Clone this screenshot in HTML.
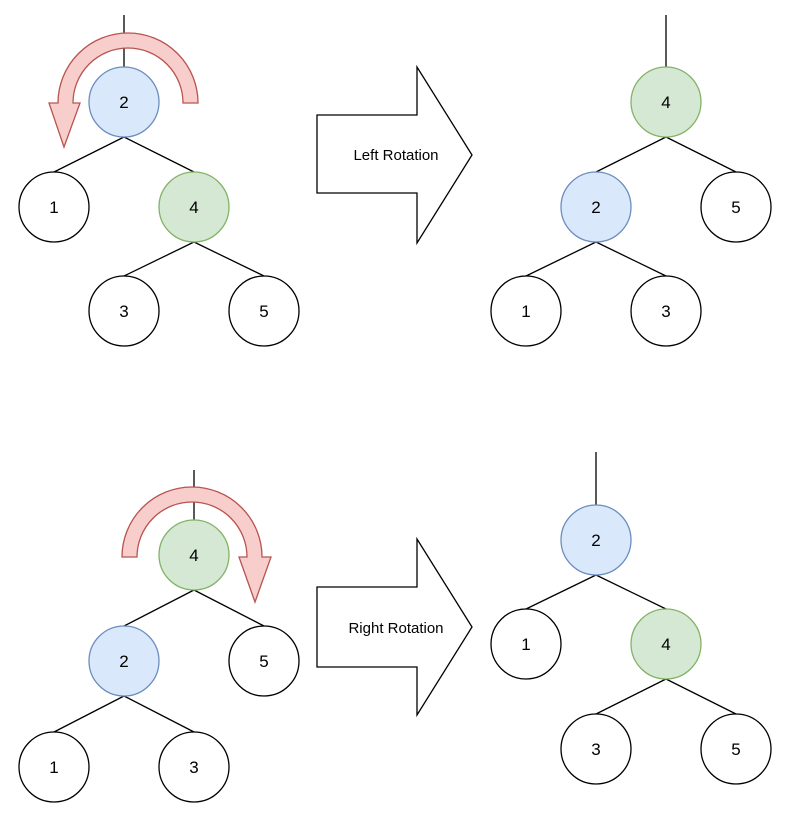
<!DOCTYPE html>
<html><head><style>body{margin:0;background:#fff}</style></head><body>
<svg width="791" height="819" xmlns="http://www.w3.org/2000/svg" font-family="Liberation Sans, Arial, sans-serif">
<g stroke="#000" stroke-width="1.3" fill="none">
<line x1="124" y1="15" x2="124" y2="67"/>
<line x1="124" y1="137" x2="54" y2="172"/><line x1="124" y1="137" x2="194" y2="172"/>
<line x1="194" y1="242" x2="124" y2="276"/><line x1="194" y1="242" x2="264" y2="276"/>
<line x1="666" y1="15" x2="666" y2="67"/>
<line x1="666" y1="137" x2="596" y2="172"/><line x1="666" y1="137" x2="736" y2="172"/>
<line x1="596" y1="242" x2="526" y2="276"/><line x1="596" y1="242" x2="666" y2="276"/>
<line x1="194" y1="470" x2="194" y2="520"/>
<line x1="194" y1="590" x2="124" y2="626"/><line x1="194" y1="590" x2="264" y2="626"/>
<line x1="124" y1="696" x2="54" y2="732"/><line x1="124" y1="696" x2="194" y2="732"/>
<line x1="596" y1="452" x2="596" y2="505"/>
<line x1="596" y1="575" x2="526" y2="609"/><line x1="596" y1="575" x2="666" y2="609"/>
<line x1="666" y1="679" x2="596" y2="714"/><line x1="666" y1="679" x2="736" y2="714"/>
</g>
<g stroke-width="1.3" font-size="17" text-anchor="middle">
<g fill="#dae8fc" stroke="#6c8ebf"><circle cx="124" cy="102" r="35"/><circle cx="596" cy="207" r="35"/><circle cx="124" cy="661" r="35"/><circle cx="596" cy="540" r="35"/></g>
<g fill="#d5e8d4" stroke="#82b366"><circle cx="194" cy="207" r="35"/><circle cx="666" cy="102" r="35"/><circle cx="194" cy="555" r="35"/><circle cx="666" cy="644" r="35"/></g>
<g fill="#fff" stroke="#000"><circle cx="54" cy="207" r="35"/><circle cx="124" cy="311" r="35"/><circle cx="264" cy="311" r="35"/>
<circle cx="736" cy="207" r="35"/><circle cx="526" cy="311" r="35"/><circle cx="666" cy="311" r="35"/>
<circle cx="264" cy="661" r="35"/><circle cx="54" cy="767" r="35"/><circle cx="194" cy="767" r="35"/>
<circle cx="526" cy="644" r="35"/><circle cx="596" cy="749" r="35"/><circle cx="736" cy="749" r="35"/></g>
<g fill="#000" stroke="none">
<text x="124" y="108">2</text><text x="54" y="213">1</text><text x="194" y="213">4</text><text x="124" y="317">3</text><text x="264" y="317">5</text>
<text x="666" y="108">4</text><text x="596" y="213">2</text><text x="736" y="213">5</text><text x="526" y="317">1</text><text x="666" y="317">3</text>
<text x="194" y="561">4</text><text x="124" y="667">2</text><text x="264" y="667">5</text><text x="54" y="773">1</text><text x="194" y="773">3</text>
<text x="596" y="546">2</text><text x="526" y="650">1</text><text x="666" y="650">4</text><text x="596" y="755">3</text><text x="736" y="755">5</text>
</g></g>
<g fill="#f8cecc" stroke="#b85450" stroke-width="1.3">
<path d="M198,103 A70,70 0 0 0 58,103 L49,103 L64,147 L80,103 L73,103 A55,55 0 0 1 183,103 Z"/>
<path d="M122,557 A70,70 0 0 1 262,557 L271,557 L255,602 L239,557 L247,557 A55,55 0 0 0 137,557 Z"/>
</g>
<g fill="#fff" stroke="#000" stroke-width="1.3">
<path d="M317,115 L417,115 L417,67 L472,155 L417,243 L417,193 L317,193 Z"/>
<path d="M317,587 L417,587 L417,539 L472,627 L417,715 L417,667 L317,667 Z"/>
</g>
<g font-size="15" text-anchor="middle" fill="#000">
<text x="396" y="160">Left Rotation</text>
<text x="396" y="633">Right Rotation</text>
</g>
</svg>
</body></html>
